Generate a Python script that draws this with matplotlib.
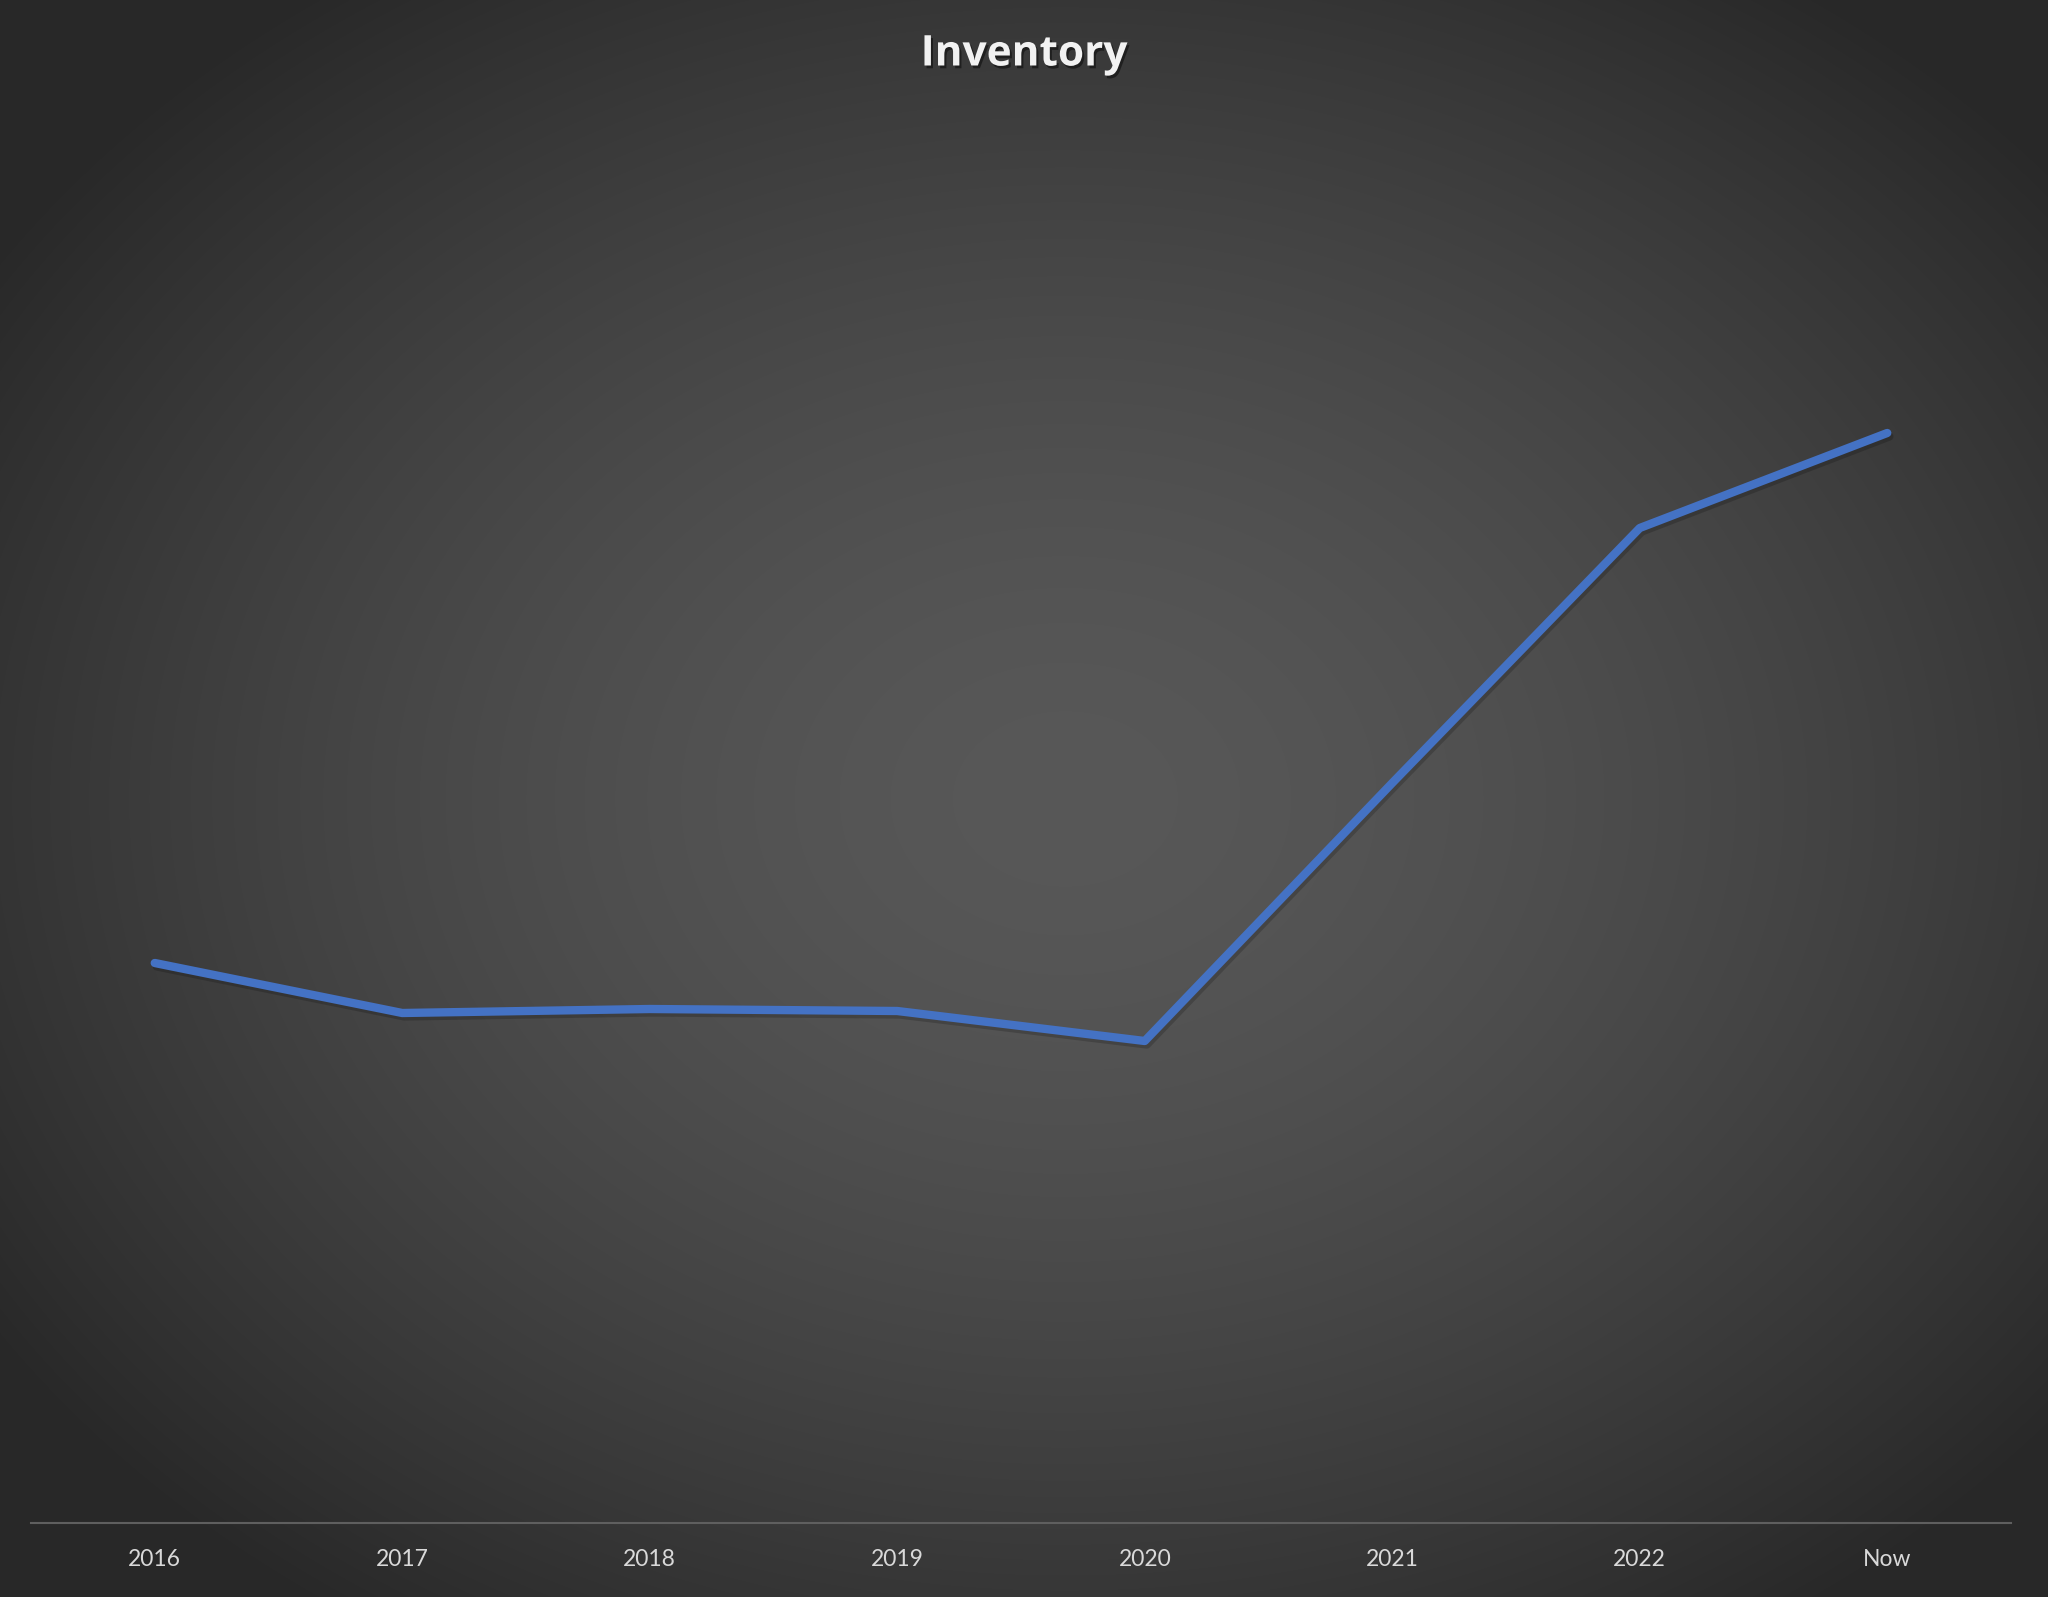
import numpy as np
import matplotlib.pyplot as plt
import matplotlib.patheffects as pe

# values (arbitrary units, no value axis shown)
categories = ['2016', '2017', '2018', '2019', '2020', '2021', '2022', 'Now']
inventory = [560, 510, 514, 512, 482, 740, 995, 1090]

W, H = 2048, 1597
fig = plt.figure(figsize=(W / 100, H / 100), dpi=100)

# radial gradient background
bg = fig.add_axes([0, 0, 1, 1])
yy, xx = np.mgrid[0:H, 0:W]
r = np.sqrt(((xx - W * 0.52) / (W * 0.62)) ** 2 + ((yy - H * 0.5) / (H * 0.62)) ** 2)
r = np.clip(r, 0, 1)
shade = 0.345 - (0.345 - 0.16) * r ** 1.6
bg.imshow(np.dstack([shade] * 3), aspect='auto', extent=[0, 1, 0, 1])
bg.set_axis_off()

# plot area (pixels: x 31..2011, baseline y 1523)
ax = fig.add_axes([31 / W, (H - 1523) / H, 1980 / W, 1400 / H])
ax.patch.set_alpha(0)
x = np.arange(len(categories))
ax.plot(x, inventory, color='#4472C4', lw=6, solid_capstyle='round',
        solid_joinstyle='round',
        path_effects=[pe.SimpleLineShadow(offset=(1.5, -2.5), shadow_color='black', alpha=0.18),
                      pe.Normal()])
ax.set_xlim(-0.5, len(categories) - 0.5)
ax.set_ylim(0, 1400)

for s in ['top', 'left', 'right']:
    ax.spines[s].set_visible(False)
ax.spines['bottom'].set_color('#5f5f5f')
ax.spines['bottom'].set_linewidth(1.5)
ax.set_yticks([])
ax.set_xticks(x)
ax.set_xticklabels(categories, fontsize=16.5, color='#d9d9d9', family=['Lato', 'DejaVu Sans'])
ax.tick_params(axis='x', length=0, pad=19)

fig.text(0.5, 1 - 55 / H, 'Inventory', ha='center', va='center', fontsize=30.5,
         fontweight='bold', color='#f2f2f2', family=['Open Sans', 'DejaVu Sans'],
         path_effects=[pe.withSimplePatchShadow(offset=(1.5, -2), shadow_rgbFace='black', alpha=0.45)])

fig.savefig('out.png', dpi=100)
